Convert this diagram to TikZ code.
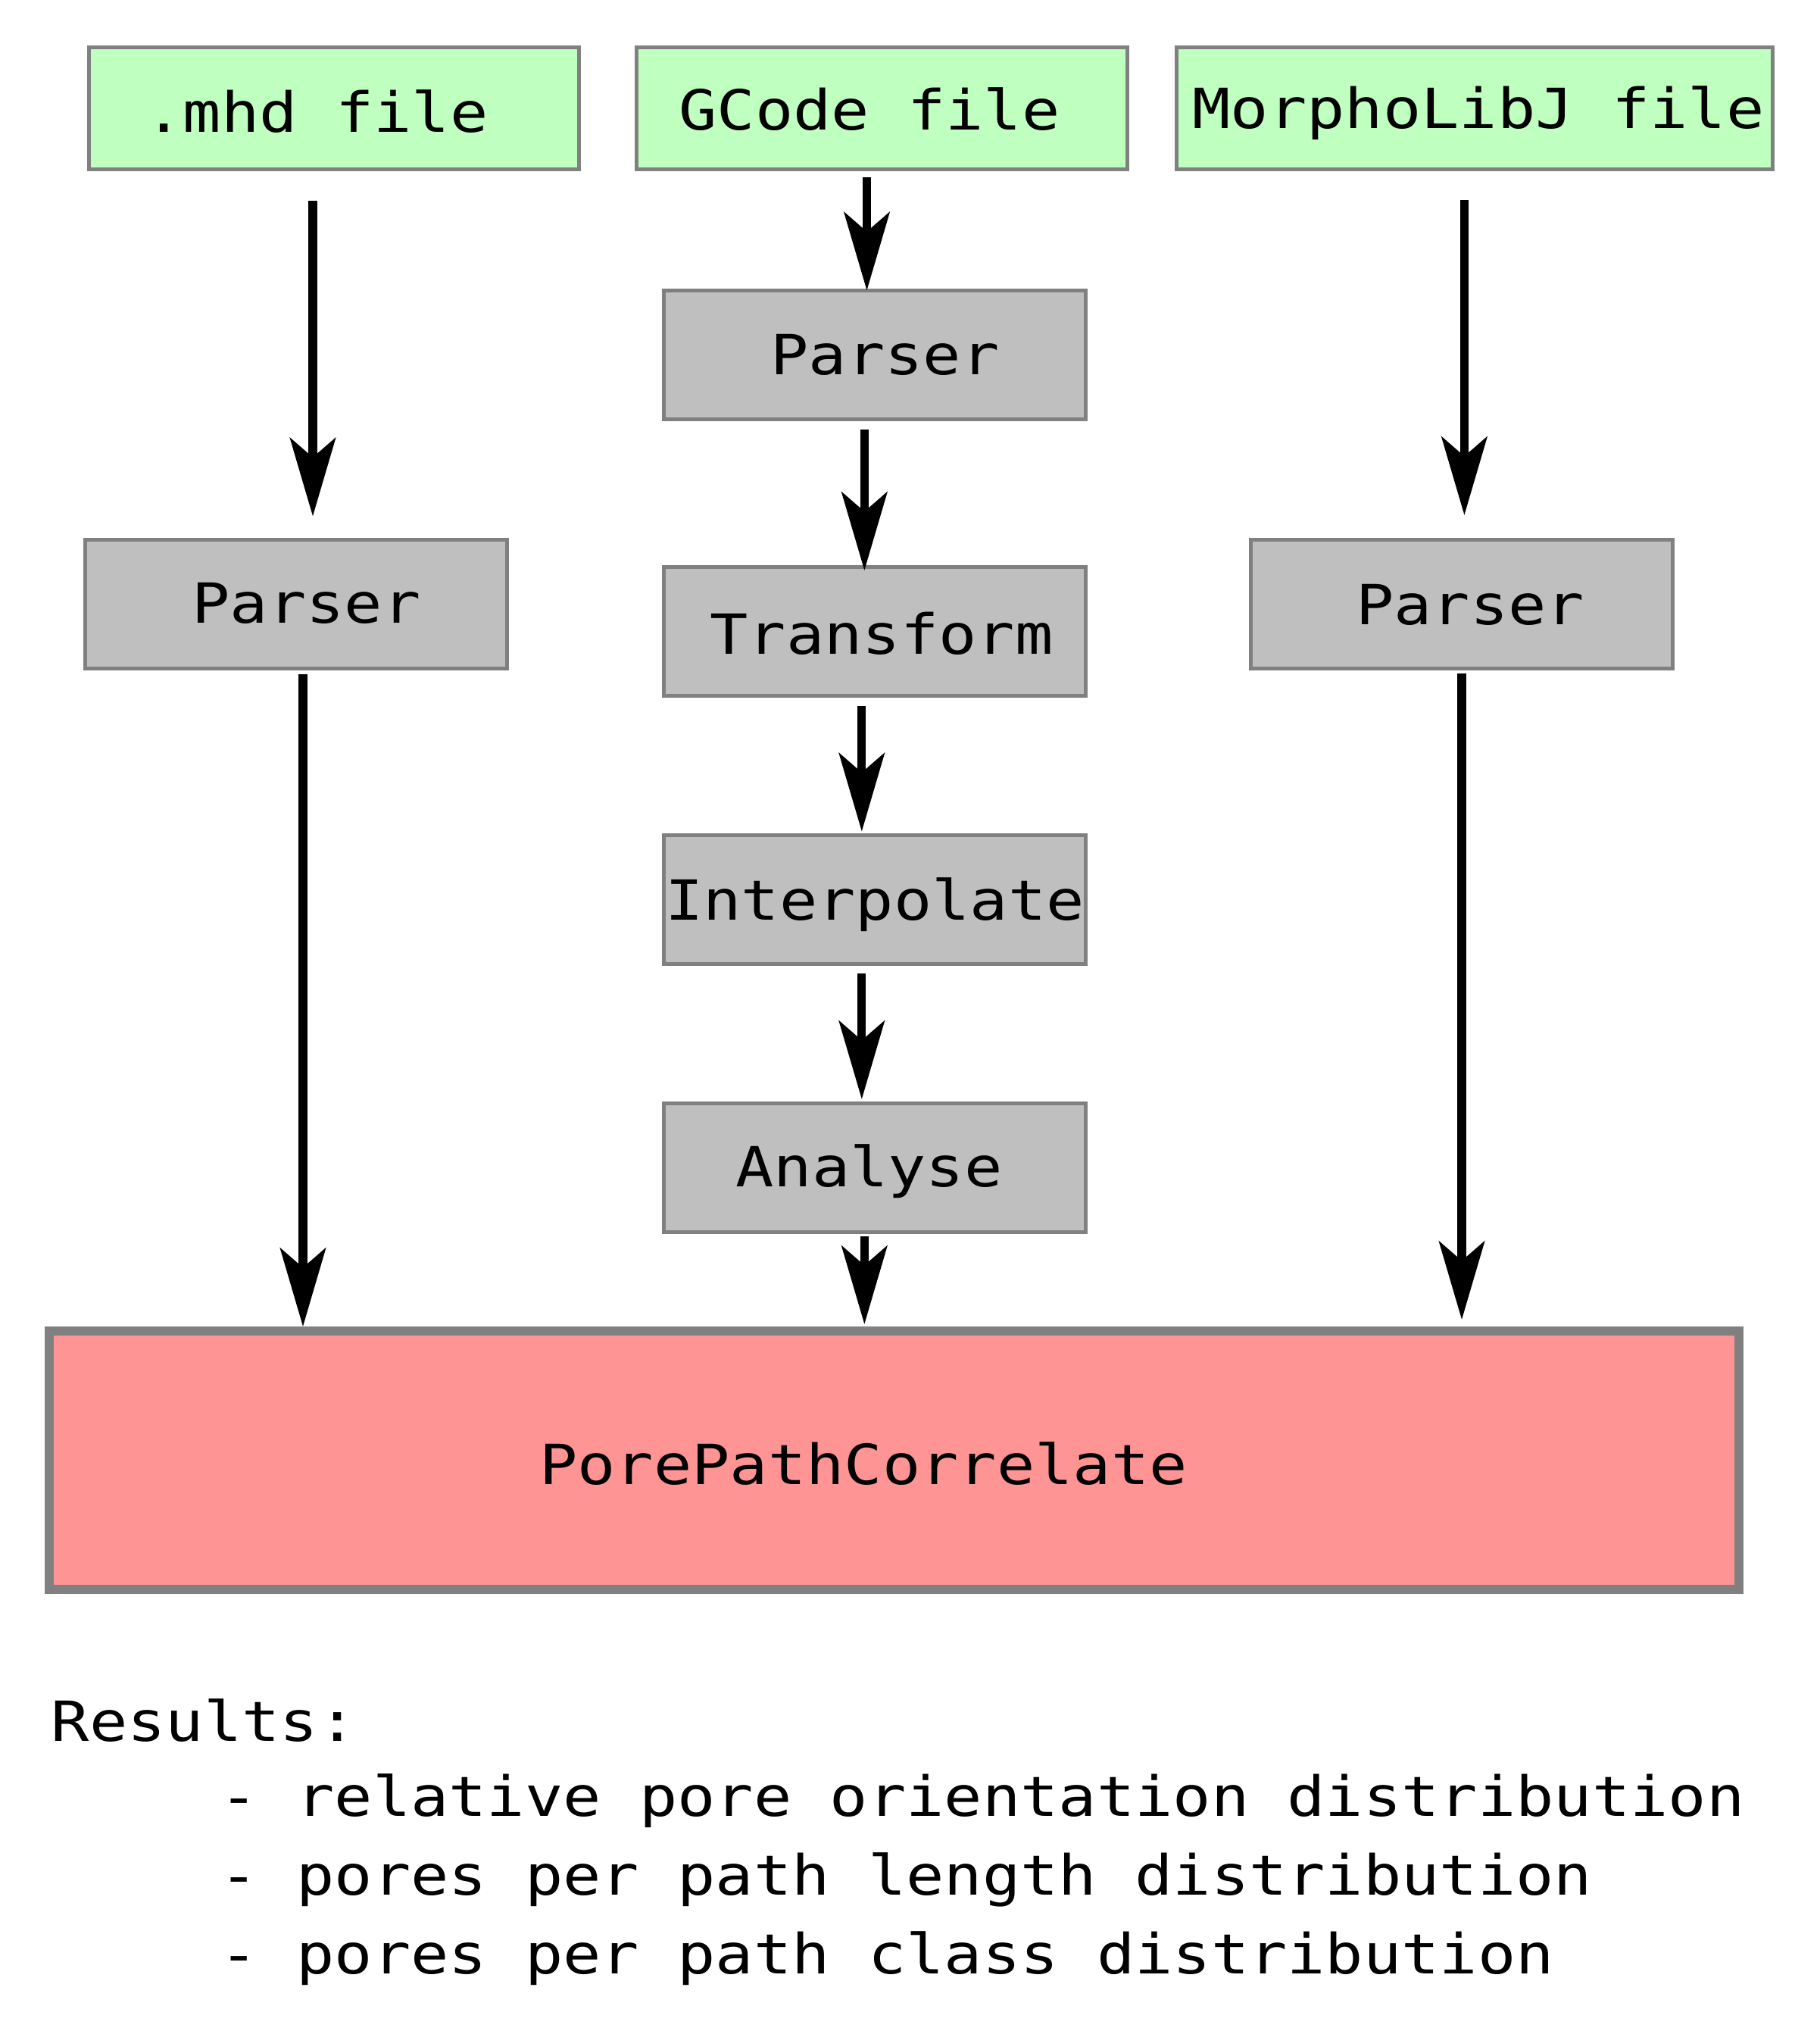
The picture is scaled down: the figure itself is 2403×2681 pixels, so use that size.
\documentclass[tikz,border=0pt]{standalone}
\usepackage{fontspec}
\newfontfamily\diagfont[FakeStretch=1.145]{DejaVu Sans Mono}
\usetikzlibrary{arrows.meta,calc}

\definecolor{filegreen}{HTML}{BFFFBF}
\definecolor{stepgray}{HTML}{BFBFBF}
\definecolor{edgegray}{HTML}{808080}
\definecolor{corrpink}{HTML}{FF9494}

\tikzset{every picture/.style={line width=0.75pt}}
\tikzset{
  filebox/.style={draw=edgegray, fill=filegreen, line width=1.5pt, inner sep=0pt, minimum height=48.3pt},
  procbox/.style={draw=edgegray, fill=stepgray, line width=1.5pt, inner sep=0pt, minimum width=167.1pt, minimum height=51pt},
  corrbox/.style={draw=edgegray, fill=corrpink, line width=3.6pt, inner sep=0pt, minimum width=669.3pt, minimum height=102.3pt},
  lbl/.style={inner sep=0pt, anchor=base, font=\diagfont\fontsize{21.9pt}{30pt}\selectfont},
  flow/.style={line width=3.4pt, -{Stealth[length=31pt, width=18pt, inset=7.7pt]}},
}

\begin{document}
\begin{tikzpicture}[x=0.3pt,y=0.3pt,yscale=-1,xscale=1]
%set diagram left start at 0, and has height of 2681
\path[use as bounding box] (0,0) rectangle (2403,2681);

%Shape: Rectangle [id:files]
\node[filebox, minimum width=194pt] (mhd) at (441.2,143) {};
\node[filebox, minimum width=194.4pt] (gcode) at (1164,143) {};
\node[filebox, minimum width=236.1pt] (morpho) at (1947,143) {};
%Shape: Rectangle [id:steps]
\node[procbox] (parserL) at (391,797) {};
\node[procbox] (parserM) at (1155.3,469) {};
\node[procbox] (parserR) at (1930,797.5) {};
\node[procbox] (transform) at (1155.3,833.5) {};
\node[procbox] (interp) at (1155.3,1187) {};
\node[procbox] (analyse) at (1155.3,1541.5) {};
%Shape: Rectangle [id:correlate]
\node[corrbox] (ppc) at (1180.5,1927.5) {};

%Straight Lines [id:left]
\draw[flow, shorten >=8.4pt] ($(mhd.south)+(-28.2,39)$) coordinate (a1) -- (a1 |- parserL.north);
\draw[flow] ($(parserL.south)+(9,5)$) coordinate (a2) -- (a2 |- ppc.north);

%Straight Lines [id:middle]
\draw[flow, shorten >=-0.6pt] ($(gcode.south)+(-19.5,8)$) coordinate (g1) -- (g1 |- parserM.north);
\draw[flow, shorten >=-2.1pt] ($(parserM.south)+(-14,11)$) coordinate (g2) -- (g2 |- transform.north);
\draw[flow, shorten >=0.6pt] ($(transform.south)+(-17.5,11)$) coordinate (g3) -- (g3 |- interp.north);
\draw[flow, shorten >=0.9pt] ($(interp.south)+(-17.5,10)$) coordinate (g4) -- (g4 |- analyse.north);
\draw[flow, shorten >=0.9pt] ($(analyse.south)+(-14,3)$) coordinate (g5) -- (g5 |- ppc.north);

%Straight Lines [id:right]
\draw[flow, shorten >=9pt] ($(morpho.south)+(-13.6,38)$) coordinate (r1) -- (r1 |- parserR.north);
\draw[flow, shorten >=2.7pt] ($(parserR.south)+(0,4)$) coordinate (r2) -- (r2 |- ppc.north);

% Text Node
\node[lbl] (mhdT) at (418,175) {.mhd file};
% Text Node
\node[lbl] (gcodeT) at (1148,172) {GCode file};
% Text Node
\node[lbl] (morphoT) at (1952,170) {MorphoLibJ file};
% Text Node
\node[lbl] (parserLT) at (404.5,822) {Parser};
% Text Node
\node[lbl] (parserMT) at (1168.5,495) {Parser};
% Text Node
\node[lbl] (parserRT) at (1941,824.5) {Parser};
% Text Node
\node[lbl] (transformT) at (1164,863) {Transform};
% Text Node
\node[lbl] (interpT) at (1155,1214.6) {Interpolate};
% Text Node
\node[lbl] (analyseT) at (1147.5,1566) {Analyse};
% Text Node
\node[lbl] (ppcT) at (1140,1959) {PorePathCorrelate};

% Text Node
\node[lbl, anchor=base west] (resT) at (66.6,2298.6) {Results:};
% Text Node
\node[lbl, anchor=base west] (res1) at (289.5,2397.8) {- relative pore orientation distribution};
% Text Node
\node[lbl, anchor=base west] (res2) at (289.5,2501.6) {- pores per path length distribution};
% Text Node
\node[lbl, anchor=base west] (res3) at (289.5,2605.8) {- pores per path class distribution};

\end{tikzpicture}
\end{document}
